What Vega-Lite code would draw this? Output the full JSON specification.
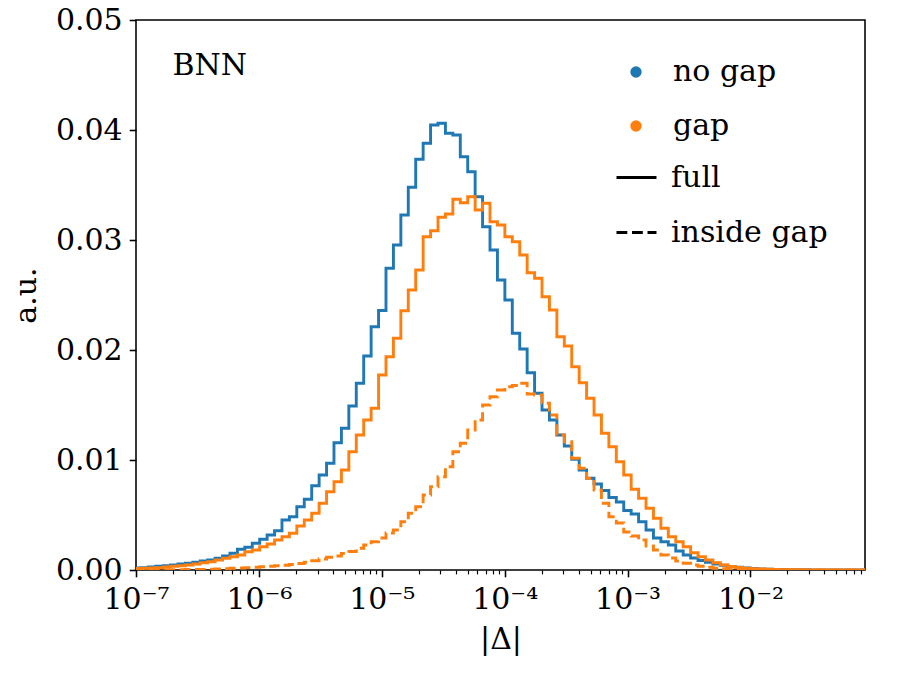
{
  "$schema": "https://vega.github.io/schema/vega-lite/v6.json",
  "width": 729,
  "height": 550,
  "autosize": {"type": "none"},
  "padding": {"left": 136, "top": 20, "right": 35, "bottom": 105},
  "background": "white",
  "config": {
    "font": "DejaVu Serif",
    "view": {"stroke": "black", "strokeWidth": 1.56},
    "axis": {"labelColor": "black", "titleColor": "black", "tickColor": "black", "labelFontSize": 30, "titleFontSize": 30, "titleFontWeight": "normal", "grid": false, "domain": false, "labelFlush": false, "labelOverlap": false},
    "legend": {"labelColor": "black", "labelFontSize": 30, "padding": 0}
  },
  "datasets": {
    "hist": [
      {"edge": 9.521e-8, "no_gap_full": 0.000182, "gap_full": 0.000136, "gap_inside_gap": 0.00001},
      {"edge": 1.0943e-7, "no_gap_full": 0.000209, "gap_full": 0.000155, "gap_inside_gap": 0.000012},
      {"edge": 1.2578e-7, "no_gap_full": 0.000273, "gap_full": 0.000182, "gap_inside_gap": 0.000015},
      {"edge": 1.4457e-7, "no_gap_full": 0.000336, "gap_full": 0.000209, "gap_inside_gap": 0.000018},
      {"edge": 1.6616e-7, "no_gap_full": 0.000391, "gap_full": 0.000273, "gap_inside_gap": 0.000022},
      {"edge": 1.9097e-7, "no_gap_full": 0.000455, "gap_full": 0.000336, "gap_inside_gap": 0.000027},
      {"edge": 2.195e-7, "no_gap_full": 0.000545, "gap_full": 0.000391, "gap_inside_gap": 0.000033},
      {"edge": 2.5228e-7, "no_gap_full": 0.000609, "gap_full": 0.000455, "gap_inside_gap": 0.00004},
      {"edge": 2.8996e-7, "no_gap_full": 0.0007, "gap_full": 0.000545, "gap_inside_gap": 0.000048},
      {"edge": 3.3327e-7, "no_gap_full": 0.000818, "gap_full": 0.000664, "gap_inside_gap": 0.000058},
      {"edge": 3.8305e-7, "no_gap_full": 0.000909, "gap_full": 0.000755, "gap_inside_gap": 0.000073},
      {"edge": 4.4026e-7, "no_gap_full": 0.001064, "gap_full": 0.000909, "gap_inside_gap": 0.000091},
      {"edge": 5.0602e-7, "no_gap_full": 0.001273, "gap_full": 0.001064, "gap_inside_gap": 0.000118},
      {"edge": 5.816e-7, "no_gap_full": 0.001518, "gap_full": 0.001209, "gap_inside_gap": 0.000155},
      {"edge": 6.6847e-7, "no_gap_full": 0.001882, "gap_full": 0.001364, "gap_inside_gap": 0.000182},
      {"edge": 7.6831e-7, "no_gap_full": 0.002064, "gap_full": 0.001664, "gap_inside_gap": 0.000218},
      {"edge": 8.8306e-7, "no_gap_full": 0.002427, "gap_full": 0.001818, "gap_inside_gap": 0.000255},
      {"edge": 1.015e-6, "no_gap_full": 0.002791, "gap_full": 0.002118, "gap_inside_gap": 0.0003},
      {"edge": 1.1666e-6, "no_gap_full": 0.003182, "gap_full": 0.002364, "gap_inside_gap": 0.000345},
      {"edge": 1.3408e-6, "no_gap_full": 0.003573, "gap_full": 0.002727, "gap_inside_gap": 0.000382},
      {"edge": 1.541e-6, "no_gap_full": 0.004545, "gap_full": 0.003027, "gap_inside_gap": 0.000436},
      {"edge": 1.7712e-6, "no_gap_full": 0.004845, "gap_full": 0.003336, "gap_inside_gap": 0.0005},
      {"edge": 2.0358e-6, "no_gap_full": 0.005755, "gap_full": 0.004, "gap_inside_gap": 0.000591},
      {"edge": 2.3398e-6, "no_gap_full": 0.006427, "gap_full": 0.004545, "gap_inside_gap": 0.0007},
      {"edge": 2.6893e-6, "no_gap_full": 0.007664, "gap_full": 0.005155, "gap_inside_gap": 0.000845},
      {"edge": 3.091e-6, "no_gap_full": 0.008636, "gap_full": 0.006064, "gap_inside_gap": 0.001},
      {"edge": 3.5526e-6, "no_gap_full": 0.0097, "gap_full": 0.007118, "gap_inside_gap": 0.001155},
      {"edge": 4.0833e-6, "no_gap_full": 0.011573, "gap_full": 0.008027, "gap_inside_gap": 0.001273},
      {"edge": 4.6931e-6, "no_gap_full": 0.012882, "gap_full": 0.009091, "gap_inside_gap": 0.0015},
      {"edge": 5.3941e-6, "no_gap_full": 0.014909, "gap_full": 0.010755, "gap_inside_gap": 0.001682},
      {"edge": 6.1998e-6, "no_gap_full": 0.016973, "gap_full": 0.012273, "gap_inside_gap": 0.001973},
      {"edge": 7.1258e-6, "no_gap_full": 0.019455, "gap_full": 0.013636, "gap_inside_gap": 0.002273},
      {"edge": 8.1901e-6, "no_gap_full": 0.022118, "gap_full": 0.0147, "gap_inside_gap": 0.002573},
      {"edge": 9.4133e-6, "no_gap_full": 0.023591, "gap_full": 0.017727, "gap_inside_gap": 0.002909},
      {"edge": 1.0819e-5, "no_gap_full": 0.027427, "gap_full": 0.019391, "gap_inside_gap": 0.003364},
      {"edge": 1.2435e-5, "no_gap_full": 0.029545, "gap_full": 0.021064, "gap_inside_gap": 0.003636},
      {"edge": 1.4293e-5, "no_gap_full": 0.032273, "gap_full": 0.023573, "gap_inside_gap": 0.004391},
      {"edge": 1.6427e-5, "no_gap_full": 0.034791, "gap_full": 0.025455, "gap_inside_gap": 0.005155},
      {"edge": 1.8881e-5, "no_gap_full": 0.037336, "gap_full": 0.027273, "gap_inside_gap": 0.005755},
      {"edge": 2.1701e-5, "no_gap_full": 0.038791, "gap_full": 0.0303, "gap_inside_gap": 0.006818},
      {"edge": 2.4942e-5, "no_gap_full": 0.040455, "gap_full": 0.030845, "gap_inside_gap": 0.007573},
      {"edge": 2.8668e-5, "no_gap_full": 0.040609, "gap_full": 0.032064, "gap_inside_gap": 0.008482},
      {"edge": 3.2949e-5, "no_gap_full": 0.0397, "gap_full": 0.032364, "gap_inside_gap": 0.009391},
      {"edge": 3.7871e-5, "no_gap_full": 0.039545, "gap_full": 0.0337, "gap_inside_gap": 0.010755},
      {"edge": 4.3527e-5, "no_gap_full": 0.037573, "gap_full": 0.033391, "gap_inside_gap": 0.011518},
      {"edge": 5.0028e-5, "no_gap_full": 0.036209, "gap_full": 0.033936, "gap_inside_gap": 0.012727},
      {"edge": 5.7501e-5, "no_gap_full": 0.033936, "gap_full": 0.032727, "gap_inside_gap": 0.013636},
      {"edge": 6.6089e-5, "no_gap_full": 0.031209, "gap_full": 0.033336, "gap_inside_gap": 0.015},
      {"edge": 7.596e-5, "no_gap_full": 0.029091, "gap_full": 0.031664, "gap_inside_gap": 0.015755},
      {"edge": 8.7305e-5, "no_gap_full": 0.026364, "gap_full": 0.031364, "gap_inside_gap": 0.016364},
      {"edge": 1.0035e-4, "no_gap_full": 0.024545, "gap_full": 0.0303, "gap_inside_gap": 0.016664},
      {"edge": 1.1533e-4, "no_gap_full": 0.021518, "gap_full": 0.029845, "gap_inside_gap": 0.016773},
      {"edge": 1.3256e-4, "no_gap_full": 0.020091, "gap_full": 0.028636, "gap_inside_gap": 0.016973},
      {"edge": 1.5236e-4, "no_gap_full": 0.017936, "gap_full": 0.027027, "gap_inside_gap": 0.016},
      {"edge": 1.7511e-4, "no_gap_full": 0.016064, "gap_full": 0.026518, "gap_inside_gap": 0.015909},
      {"edge": 2.0127e-4, "no_gap_full": 0.014545, "gap_full": 0.024845, "gap_inside_gap": 0.015155},
      {"edge": 2.3133e-4, "no_gap_full": 0.013636, "gap_full": 0.023636, "gap_inside_gap": 0.014091},
      {"edge": 2.6588e-4, "no_gap_full": 0.012273, "gap_full": 0.021209, "gap_inside_gap": 0.012273},
      {"edge": 3.056e-4, "no_gap_full": 0.011273, "gap_full": 0.020364, "gap_inside_gap": 0.011664},
      {"edge": 3.5124e-4, "no_gap_full": 0.010064, "gap_full": 0.018482, "gap_inside_gap": 0.010155},
      {"edge": 4.037e-4, "no_gap_full": 0.009091, "gap_full": 0.017027, "gap_inside_gap": 0.009245},
      {"edge": 4.64e-4, "no_gap_full": 0.008336, "gap_full": 0.015609, "gap_inside_gap": 0.008336},
      {"edge": 5.333e-4, "no_gap_full": 0.007818, "gap_full": 0.014091, "gap_inside_gap": 0.007273},
      {"edge": 6.1295e-4, "no_gap_full": 0.007227, "gap_full": 0.012427, "gap_inside_gap": 0.006064},
      {"edge": 7.045e-4, "no_gap_full": 0.006591, "gap_full": 0.011209, "gap_inside_gap": 0.004845},
      {"edge": 8.0972e-4, "no_gap_full": 0.006182, "gap_full": 0.009845, "gap_inside_gap": 0.004273},
      {"edge": 9.3066e-4, "no_gap_full": 0.005409, "gap_full": 0.008636, "gap_inside_gap": 0.003455},
      {"edge": 1.0697e-3, "no_gap_full": 0.005091, "gap_full": 0.007336, "gap_inside_gap": 0.003091},
      {"edge": 1.2294e-3, "no_gap_full": 0.004391, "gap_full": 0.006518, "gap_inside_gap": 0.002727},
      {"edge": 1.4131e-3, "no_gap_full": 0.003636, "gap_full": 0.005609, "gap_inside_gap": 0.002182},
      {"edge": 1.6241e-3, "no_gap_full": 0.002909, "gap_full": 0.0047, "gap_inside_gap": 0.001818},
      {"edge": 1.8667e-3, "no_gap_full": 0.002573, "gap_full": 0.003791, "gap_inside_gap": 0.001364},
      {"edge": 2.1455e-3, "no_gap_full": 0.002273, "gap_full": 0.003027, "gap_inside_gap": 0.001091},
      {"edge": 2.466e-3, "no_gap_full": 0.001727, "gap_full": 0.002573, "gap_inside_gap": 0.000818},
      {"edge": 2.8343e-3, "no_gap_full": 0.001364, "gap_full": 0.002118, "gap_inside_gap": 0.000609},
      {"edge": 3.2576e-3, "no_gap_full": 0.001091, "gap_full": 0.001573, "gap_inside_gap": 0.000455},
      {"edge": 3.7441e-3, "no_gap_full": 0.000864, "gap_full": 0.001209, "gap_inside_gap": 0.000336},
      {"edge": 4.3034e-3, "no_gap_full": 0.0007, "gap_full": 0.000909, "gap_inside_gap": 0.000245},
      {"edge": 4.9461e-3, "no_gap_full": 0.000545, "gap_full": 0.000664, "gap_inside_gap": 0.000164},
      {"edge": 5.6849e-3, "no_gap_full": 0.000427, "gap_full": 0.000455, "gap_inside_gap": 0.000109},
      {"edge": 6.534e-3, "no_gap_full": 0.000318, "gap_full": 0.000318, "gap_inside_gap": 0.000064},
      {"edge": 7.5099e-3, "no_gap_full": 0.000245, "gap_full": 0.000227, "gap_inside_gap": 0.000036},
      {"edge": 8.6315e-3, "no_gap_full": 0.000182, "gap_full": 0.000164, "gap_inside_gap": 0.000018},
      {"edge": 9.9207e-3, "no_gap_full": 0.000136, "gap_full": 0.000118, "gap_inside_gap": 0.000012},
      {"edge": 1.1402e-2, "no_gap_full": 0.0001, "gap_full": 0.000091, "gap_inside_gap": 0.000008},
      {"edge": 1.3106e-2, "no_gap_full": 0.000073, "gap_full": 0.000068, "gap_inside_gap": 0.000006},
      {"edge": 1.5063e-2, "no_gap_full": 0.000055, "gap_full": 0.00005, "gap_inside_gap": 0.000005},
      {"edge": 1.7313e-2, "no_gap_full": 0.000041, "gap_full": 0.000036, "gap_inside_gap": 0.000004},
      {"edge": 1.9899e-2, "no_gap_full": 0.000032, "gap_full": 0.000027, "gap_inside_gap": 0.000003},
      {"edge": 2.2871e-2, "no_gap_full": 0.000023, "gap_full": 0.00002, "gap_inside_gap": 0.000003},
      {"edge": 2.6287e-2, "no_gap_full": 0.000018, "gap_full": 0.000015, "gap_inside_gap": 0.000002},
      {"edge": 3.0213e-2, "no_gap_full": 0.000015, "gap_full": 0.000012, "gap_inside_gap": 0.000002},
      {"edge": 3.4725e-2, "no_gap_full": 0.000012, "gap_full": 0.00001, "gap_inside_gap": 0.000002},
      {"edge": 3.9911e-2, "no_gap_full": 0.00001, "gap_full": 0.000008, "gap_inside_gap": 0.000001},
      {"edge": 4.5873e-2, "no_gap_full": 0.000008, "gap_full": 0.000006, "gap_inside_gap": 0.000001},
      {"edge": 5.2725e-2, "no_gap_full": 0.000007, "gap_full": 0.000005, "gap_inside_gap": 0.000001},
      {"edge": 6.06e-2, "no_gap_full": 0.000005, "gap_full": 0.000004, "gap_inside_gap": 0.000001},
      {"edge": 6.9651e-2, "no_gap_full": 0.000004, "gap_full": 0.000003, "gap_inside_gap": 0.000001},
      {"edge": 8.005e-2, "no_gap_full": 0.000003, "gap_full": 0.000003, "gap_inside_gap": 0.000001},
      {"edge": 9.2011e-2, "no_gap_full": 0.000003, "gap_full": 0.000002, "gap_inside_gap": 0.000001}
    ],
    "styles": [
      {"style": "full"},
      {"style": "inside gap"}
    ]
  },
  "layer": [
    {
      "data": {"name": "hist"},
      "mark": {"type": "line", "interpolate": "step-after", "clip": true, "strokeWidth": 2.9},
      "encoding": {
        "x": {
          "field": "edge", "type": "quantitative",
          "scale": {"type": "log", "domain": [1e-7, 0.0855], "nice": false},
          "axis": {
            "title": "|Δ|",
            "values": [1e-7, 2e-7, 3e-7, 4e-7, 5e-7, 6e-7, 7e-7, 8e-7, 9e-7, 1e-6, 2e-6, 3e-6, 4e-6, 5e-6, 6e-6, 7e-6, 8e-6, 9e-6, 1e-5, 2e-5, 3e-5, 4e-5, 5e-5, 6e-5, 7e-5, 8e-5, 9e-5, 1e-4, 2e-4, 3e-4, 4e-4, 5e-4, 6e-4, 7e-4, 8e-4, 9e-4, 1e-3, 2e-3, 3e-3, 4e-3, 5e-3, 6e-3, 7e-3, 8e-3, 9e-3, 1e-2, 2e-2, 3e-2, 4e-2, 5e-2, 6e-2, 7e-2, 8e-2],
            "labelExpr": "abs(log(datum.value)/LN10 - round(log(datum.value)/LN10)) < 0.001 ? '10⁻' + ['⁰','¹','²','³','⁴','⁵','⁶','⁷','⁸','⁹'][-round(log(datum.value)/LN10)] : ''",
            "tickSize": {"condition": {"test": "abs(log(datum.value)/LN10 - round(log(datum.value)/LN10)) < 0.001", "value": 6.8}, "value": 3.9},
            "tickWidth": {"condition": {"test": "abs(log(datum.value)/LN10 - round(log(datum.value)/LN10)) < 0.001", "value": 1.56}, "value": 1.17},
            "labelPadding": 8,
            "titlePadding": 10
          }
        },
        "y": {
          "field": "no_gap_full", "type": "quantitative",
          "scale": {"domain": [0, 0.05], "nice": false},
          "axis": {"title": "a.u.", "values": [0, 0.01, 0.02, 0.03, 0.04, 0.05], "format": ".2f", "tickSize": 6.8, "tickWidth": 1.56, "labelPadding": 7, "titlePadding": 14}
        },
        "color": {
          "datum": "no gap", "type": "nominal",
          "scale": {"domain": ["no gap", "gap"], "range": ["#1f77b4", "#ff7f0e"]},
          "legend": {"title": null, "orient": "none", "legendX": 485, "legendY": 37, "symbolType": "circle", "symbolSize": 130, "labelOffset": 22, "rowPadding": 24,
            "encode": {"symbols": {"update": {"fill": {"scale": "color", "field": "value"}, "strokeWidth": {"value": 0}}}}}
        }
      }
    },
    {
      "data": {"name": "hist"},
      "mark": {"type": "line", "interpolate": "step-after", "clip": true, "strokeWidth": 2.9},
      "encoding": {
        "x": {"field": "edge", "type": "quantitative"},
        "y": {"field": "gap_full", "type": "quantitative", "title": "a.u."},
        "color": {"datum": "gap", "type": "nominal"}
      }
    },
    {
      "data": {"name": "hist"},
      "mark": {"type": "line", "interpolate": "step-after", "clip": true, "strokeWidth": 2.9, "strokeDash": [10.8, 4.7]},
      "encoding": {
        "x": {"field": "edge", "type": "quantitative"},
        "y": {"field": "gap_inside_gap", "type": "quantitative", "title": "a.u."},
        "color": {"datum": "gap", "type": "nominal"}
      }
    },
    {
      "data": {"name": "styles"},
      "mark": {"type": "line", "color": "black", "strokeWidth": 2.9, "clip": true},
      "encoding": {
        "x": {"datum": 1e-3, "type": "quantitative"},
        "y": {"datum": 0, "type": "quantitative"},
        "strokeDash": {
          "field": "style", "type": "nominal",
          "scale": {"domain": ["full", "inside gap"], "range": [[1, 0], [10.8, 4.7]]},
          "legend": {"title": null, "orient": "none", "legendX": 479, "legendY": 136, "symbolType": "stroke", "symbolSize": 1600, "symbolStrokeWidth": 2.9, "symbolStrokeColor": "black", "labelOffset": 13, "rowPadding": 18}
        }
      }
    },
    {
      "data": {"values": [{"label": "BNN"}]},
      "mark": {"type": "text", "align": "left", "baseline": "alphabetic", "fontSize": 30, "color": "black"},
      "encoding": {
        "x": {"datum": 1.98e-7, "type": "quantitative"},
        "y": {"datum": 0.045, "type": "quantitative"},
        "text": {"field": "label"}
      }
    }
  ]
}
